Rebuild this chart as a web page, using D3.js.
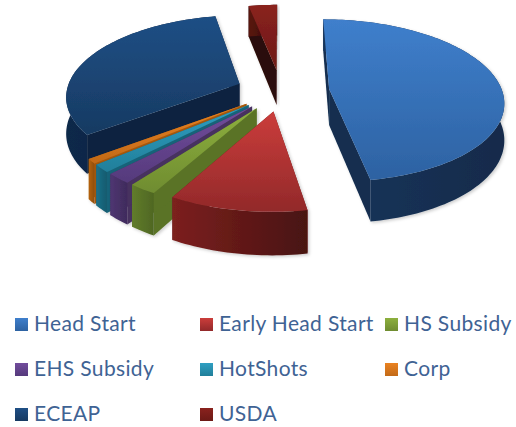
<!DOCTYPE html>
<html><head><meta charset="utf-8">
<script src="https://cdn.jsdelivr.net/npm/d3@7/dist/d3.min.js"></script>
<style>html,body{margin:0;background:#fff}svg{display:block}</style></head>
<body><svg id="c" width="516" height="427"></svg>
<script>
const categories=["Head Start","Early Head Start","HS Subsidy","EHS Subsidy","HotShots","Corp","ECEAP","USDA"];
const values=[47.3,10.8,2.2,2.0,1.5,0.9,32.2,3.1];
const explode=[0.28,0.25,0.25,0.25,0.25,0.25,0.26,0.27];
const topLight=["#3f7fcc","#cb3d3b","#8db03e","#724c9c","#2f9fc2","#ea8220","#1f4f85","#8a221e"];
const topDark=["#2d62a2","#92292a","#6f8c30","#553a7c","#217f9a","#c26a18","#173a62","#6c1a16"];
const wallLight=["#16345a","#7c201e","#617c2b","#4f3672","#1c7189","#b5620f","#10294a","#5a1511"];
const wallDark=["#122b4b","#481211","#4f6723","#3f2b5c","#155a6e","#8f4e0c","#0c2039","#300a08"];
const edgeWall=["#132d4f","#6a1a18","#5a7327","#47305f","#186479","#a5590e","#0c2340","#2c0a07"];
const paintOrder=[7,6,0,5,4,3,2,1];
const legendCols=[15,200,385], legendRows=[324,369,414];

const svg=d3.select("#c"), defs=svg.append("defs");
const P={cx:281,cy:91,R:173,ry:80,p:.14,depth:36};
function project(X,Z,d=0){const s=1/(1-P.p*Z);return [P.cx+X*P.R*s,P.cy+Z*P.ry*s+d*s];}
const arcs=d3.pie().sort(null).value(d=>d)(values);
const blur=defs.append("filter").attr("id","soft").attr("x","-5%").attr("y","-5%").attr("width","110%").attr("height","110%");
blur.append("feGaussianBlur").attr("stdDeviation",.5);
const shadow=defs.append("filter").attr("id","sh").attr("x","-10%").attr("y","-10%").attr("width","120%").attr("height","120%");
shadow.append("feDropShadow").attr("dx",1.5).attr("dy",1.5).attr("stdDeviation",1.5).attr("flood-color","#000").attr("flood-opacity",.2);
function grad(id,a,b,horizontal){const g=defs.append("linearGradient").attr("id",id).attr("x1",0).attr("y1",0).attr("x2",horizontal?1:0).attr("y2",horizontal?0:1);
 g.append("stop").attr("offset",0).attr("stop-color",a);g.append("stop").attr("offset",1).attr("stop-color",b);}
categories.forEach((c,i)=>{grad("t"+i,topLight[i],topDark[i],false);grad("w"+i,wallLight[i],wallDark[i],true);
 grad("k"+i,topLight[i],topDark[i],false);});
const line=d3.line();
const chart=svg.append("g").attr("filter","url(#soft)");
paintOrder.forEach(i=>{
 const a=arcs[i], mid=(a.startAngle+a.endAngle)/2;
 const ox=explode[i]*Math.sin(mid), oz=-explode[i]*Math.cos(mid);
 const pt=(t,r,d)=>project(ox+r*Math.sin(t),oz-r*Math.cos(t),d);
 const n=Math.max(4,Math.ceil((a.endAngle-a.startAngle)*40));
 const ts=d3.range(n+1).map(k=>a.startAngle+(a.endAngle-a.startAngle)*k/n);
 const g=chart.append("g").attr("filter","url(#sh)");
 [a.startAngle,a.endAngle].forEach(t=>{
  g.append("path").attr("fill",edgeWall[i]).attr("d",line([pt(t,0,0),pt(t,1,0),pt(t,1,P.depth),pt(t,0,P.depth)])+"Z");
 });
 const outer=ts.map(t=>pt(t,1,0)).concat(ts.slice().reverse().map(t=>pt(t,1,P.depth)));
 g.append("path").attr("fill",`url(#w${i})`).attr("d",line(outer)+"Z");
 const top=[pt(0,0,0)].concat(ts.map(t=>pt(t,1,0)));
 g.append("path").attr("fill",`url(#t${i})`).attr("d",line(top)+"Z");
});
const lg=svg.append("g");
categories.forEach((c,i)=>{
 const x=legendCols[i%3], y=legendRows[Math.floor(i/3)];
 lg.append("rect").attr("x",x).attr("y",y-6).attr("width",13).attr("height",13).attr("fill",`url(#k${i})`);
 lg.append("text").attr("x",x+19).attr("y",y+7).text(c).attr("fill","#3f6394")
  .style("font-family","Lato, sans-serif").style("font-size","21px").style("letter-spacing","0.35px");
});
</script></body></html>
